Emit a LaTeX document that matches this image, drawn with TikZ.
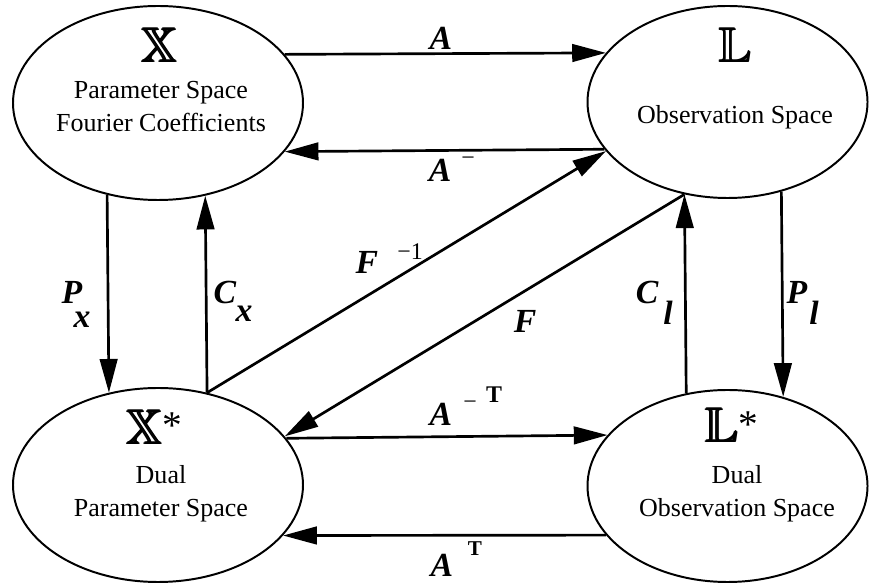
\documentclass[tikz,border=0pt]{standalone}
\usepackage{amsmath}
\usepackage{amssymb}
\usepackage{fontspec}
\setmainfont{Liberation Serif}
\usetikzlibrary{shapes.geometric,arrows.meta}
\tikzset{
  spacebox/.style={ellipse, draw=black, line width=1.4pt, inner sep=0pt},
  maparrow/.style={line width=1.9pt, draw=black, -{Triangle[length=24pt,width=12.5pt]}},
  maplabel/.style={font=\fontsize{24}{28}\selectfont\bfseries\itshape, inner sep=0pt},
  mapsup/.style={font=\fontsize{17}{20}\selectfont, inner sep=0pt},
  mapsupT/.style={font=\fontsize{17}{20}\selectfont\bfseries, inner sep=0pt},
  spacetitle/.style={font=\fontsize{35}{40}\selectfont, inner sep=0pt},
  spacetext/.style={font=\fontsize{18.5}{23.5}\selectfont, align=center, inner sep=0pt},
}
\newcommand\spacesym[1]{$\pmb{\mathbb{#1}}$}
\newcommand\dualstar{\rlap{\raisebox{4pt}{\fontsize{28}{30}\selectfont *}}}

\begin{document}
\begin{tikzpicture}
\useasboundingbox (0,0) rectangle (21.75,14.6);
% spaces
\node[spacebox, minimum width=7.25cm, minimum height=4.85cm] (X) at (3.950,12.025) {};
\node[spacebox, minimum width=7.00cm, minimum height=4.80cm] (L) at (18.188,12.050) {};
\node[spacebox, minimum width=7.25cm, minimum height=4.85cm] (Xs) at (3.950,2.475) {};
\node[spacebox, minimum width=7.00cm, minimum height=4.80cm] (Ls) at (18.188,2.450) {};
\node[spacetitle] (Xname) at (4.000,13.475) {\spacesym{X}};
\node[spacetitle] (Lname) at (18.400,13.475) {\spacesym{L}};
\node[spacetitle] (Xsname) at (3.625,3.925) {\spacesym{X}\dualstar};
\node[spacetitle] (Lsname) at (18.063,3.963) {\spacesym{L}\dualstar};
\node[spacetext] (Xtext) at (4.025,11.925) {Parameter Space\\Fourier Coefficients};
\node[spacetext] (Ltext) at (18.375,11.675) {Observation Space};
\node[spacetext] (Xstext) at (4.025,2.250) {Dual\\Parameter Space};
\node[spacetext] (Lstext) at (18.425,2.250) {Dual\\Observation Space};
% maps
\draw[maparrow] (X.21.4) -- (L.158.4);
\draw[maparrow] (L.201.6) -- (X.339.7);
\draw[maparrow] (X.241.23) -- (Xs.118.77);
\draw[maparrow] (Xs.62.32) -- (X.297.68);
\draw[maparrow] (Xs.62.32) -- (L.202.46);
\draw[maparrow] (L.245.65) -- (Xs.21.3);
\draw[maparrow] (Ls.114.35) -- (L.245.65);
\draw[maparrow] (L.301.65) -- (Ls.58.35);
\draw[maparrow] (Xs.20.85) -- (Ls.157.86);
\draw[maparrow] (Ls.202.14) -- (Xs.338.08);
% labels
\node[maplabel] (lA) at (11.025,13.650) {A};
\node[maplabel] (lAinv) at (11.000,10.350) {A};
\node[mapsup] (lAinvsup) at (11.700,10.560) {−};
\node[maplabel] (lAinvT) at (11.025,4.250) {A};
\node[mapsup] (lAinvTm) at (11.750,4.460) {−};
\node[mapsupT] (lAinvTt) at (12.350,4.725) {T};
\node[maplabel] (lAT) at (11.050,0.475) {A};
\node[mapsupT, font=\fontsize{15}{18}\selectfont\bfseries] (lATt) at (11.875,0.875) {T};
\node[maplabel] (lFinv) at (9.175,8.050) {F};
\node[mapsup] (lFinvsup) at (10.250,8.300) {−1};
\node[maplabel] (lF) at (13.125,6.575) {F};
\node[maplabel] (lPx) at (1.800,7.300) {P};
\node[maplabel] (lPxsub) at (2.050,6.600) {x};
\node[maplabel] (lCx) at (5.625,7.300) {C};
\node[maplabel] (lCxsub) at (6.100,6.750) {x};
\node[maplabel] (lCl) at (16.175,7.300) {C};
\node[maplabel] (lClsub) at (16.700,6.775) {l};
\node[maplabel] (lPl) at (19.925,7.300) {P};
\node[maplabel] (lPlsub) at (20.350,6.775) {l};
\end{tikzpicture}
\end{document}
